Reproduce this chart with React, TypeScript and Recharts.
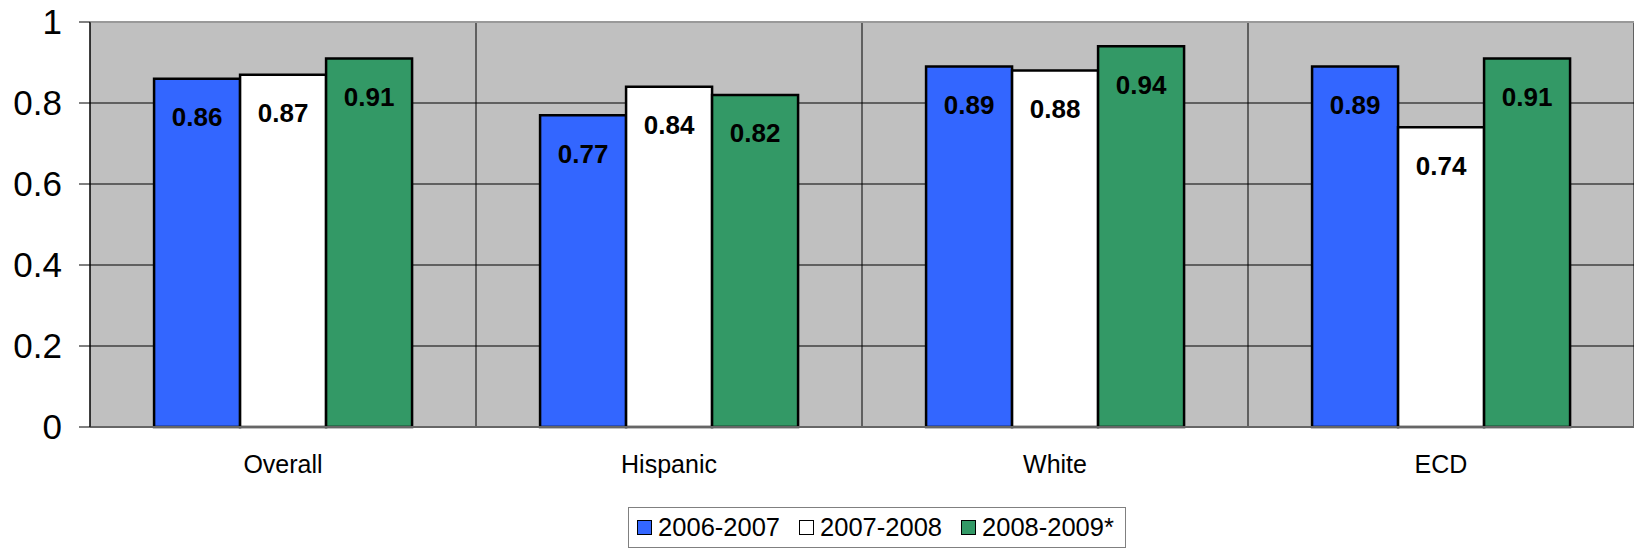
import React from "react";
import {
  BarChart,
  Bar,
  XAxis,
  YAxis,
  CartesianGrid,
  Legend,
  LabelList,
  ReferenceLine,
} from "recharts";

const categories = ["Overall", "Hispanic", "White", "ECD"];
const year0607 = [0.86, 0.77, 0.89, 0.89];
const year0708 = [0.87, 0.84, 0.88, 0.74];
const year0809 = [0.91, 0.82, 0.94, 0.91];
const yTicks = [0, 0.2, 0.4, 0.6, 0.8, 1];

const series = [
  { key: "y0607", label: "2006-2007", color: "#3366FF" },
  { key: "y0708", label: "2007-2008", color: "#FFFFFF" },
  { key: "y0809", label: "2008-2009*", color: "#339966" },
];

const data = categories.map((name, i) => ({
  name,
  y0607: year0607[i],
  y0708: year0708[i],
  y0809: year0809[i],
}));

const FONT = "'Liberation Sans', Arial, sans-serif";

const LegendBox = () => (
  <div style={{ display: "flex", justifyContent: "center", paddingLeft: 120, height: 41 }}>
    <div
      style={{
        border: "1px solid #808080",
        height: 41,
        display: "flex",
        alignItems: "center",
        padding: "0 11px 0 8px",
        fontFamily: FONT,
        fontSize: 25.5,
        color: "#000",
        background: "#fff",
        boxSizing: "border-box",
      }}
    >
      {series.map((s, i) => (
        <div
          key={s.key}
          style={{ display: "flex", alignItems: "center", marginRight: i < series.length - 1 ? 19 : 0 }}
        >
          <span
            style={{
              display: "inline-block",
              width: 13,
              height: 13,
              background: s.color,
              border: "1.5px solid #000",
              marginRight: 6,
            }}
          />
          <span>{s.label}</span>
        </div>
      ))}
    </div>
  </div>
);

export default function App() {
  return (
    <div style={{ position: "absolute", left: 0, top: 0, background: "#fff" }}>
      <BarChart
        width={1634}
        height={548}
        data={data}
        margin={{ top: 22, right: 0, bottom: 0, left: 0 }}
        barCategoryGap="16.6%"
        barGap={0}
      >
        <CartesianGrid
          fill="#C0C0C0"
          fillOpacity={1}
          stroke="#000"
          verticalCoordinatesGenerator={({ offset }: any) =>
            categories
              .map((_, i) => offset.left + (i * offset.width) / categories.length)
              .concat([offset.left + offset.width])
          }
        />
        <ReferenceLine y={1} stroke="#999" strokeWidth={2} />
        <XAxis
          dataKey="name"
          height={80}
          tickSize={0}
          tickMargin={28}
          axisLine={{ stroke: "#666", strokeWidth: 2 }}
          tick={{ fontSize: 25, fill: "#000", fontFamily: FONT }}
        />
        <YAxis
          width={90}
          domain={[0, 1]}
          ticks={yTicks}
          tickSize={11}
          tickMargin={17}
          axisLine={{ stroke: "#000" }}
          tickLine={{ stroke: "#000" }}
          tick={{ fontSize: 35, fill: "#000", fontFamily: FONT }}
        />
        <Legend verticalAlign="bottom" height={41} content={() => <LegendBox />} />
        {series.map((s) => (
          <Bar
            key={s.key}
            dataKey={s.key}
            name={s.label}
            fill={s.color}
            stroke="#000"
            strokeWidth={2.5}
            isAnimationActive={false}
          >
            <LabelList
              dataKey={s.key}
              position="insideTop"
              offset={29}
              style={{ fontSize: 26, fontWeight: "bold", fill: "#000", fontFamily: FONT }}
            />
          </Bar>
        ))}
      </BarChart>
    </div>
  );
}
